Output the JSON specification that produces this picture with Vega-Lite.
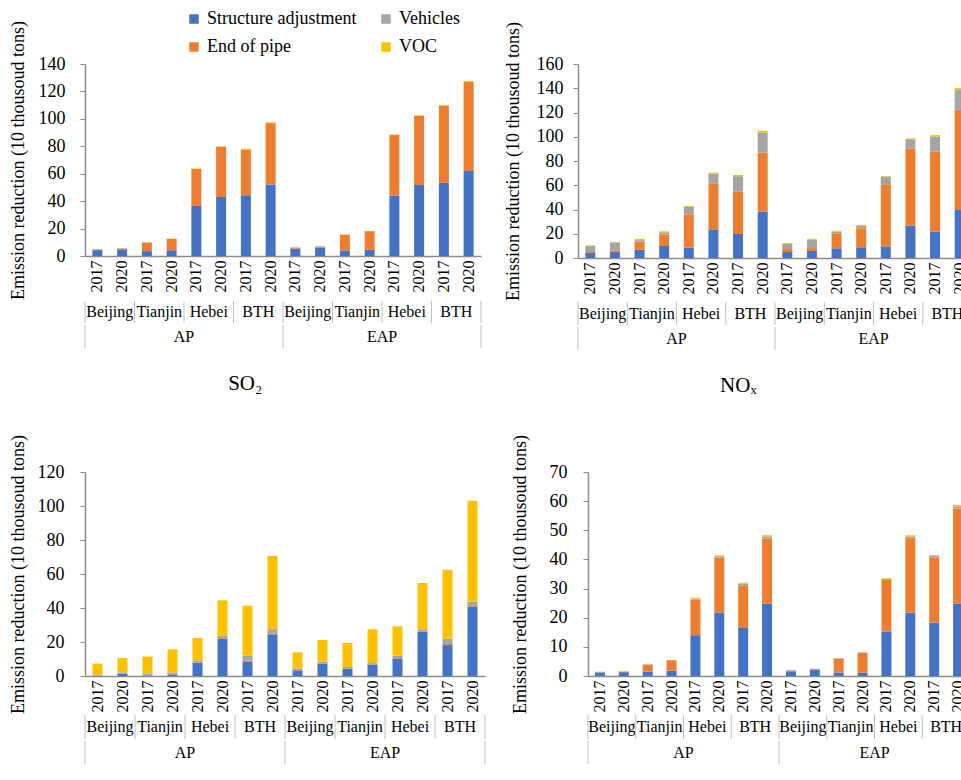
{
  "$schema": "https://vega.github.io/schema/vega-lite/v6.json",
  "padding": {"left": 8, "top": 10, "right": 0, "bottom": 0},
  "config": {
    "font": "Liberation Serif",
    "view": {"stroke": null},
    "axis": {"labelFontSize": 18, "titleFontSize": 18, "titleFontWeight": "normal", "labelColor": "#000000", "titleColor": "#000000", "domainColor": "#8c8c8c", "tickColor": "#8c8c8c", "grid": false, "labelFont": "Liberation Serif", "titleFont": "Liberation Serif"},
    "axisX": {"labelFontSize": 16, "domainWidth": 1.5},
    "axisY": {"domainWidth": 1.5, "tickSize": 5},
    "legend": {"orient": "none", "legendX": 100, "legendY": -54, "columns": 2, "symbolType": "square", "symbolSize": 90, "labelFontSize": 18, "labelFont": "Liberation Serif", "labelColor": "#000000", "columnPadding": 20, "rowPadding": 10, "labelOffset": 4, "symbolStrokeWidth": 0, "symbolOpacity": 1},
    "title": {"font": "Liberation Serif", "fontSize": 21, "fontWeight": "normal", "color": "#000000"},
    "text": {"font": "Liberation Serif", "fontSize": 16, "color": "#000000"}
  },
  "spacing": 38,
  "vconcat": [
    {
      "spacing": 21,
      "hconcat": [
        {
          "spacing": 0,
          "title": {"text": "SO₂", "orient": "bottom", "offset": 24, "anchor": "middle"},
          "vconcat": [
            {
              "width": 396, "height": 192,
              "data": {"values": [
                {"k":"AP|Beijing|2017","m":"Structure adjustment","v":4.3},{"k":"AP|Beijing|2017","m":"End of pipe","v":0.5},{"k":"AP|Beijing|2017","m":"VOC","v":0.1},
                {"k":"AP|Beijing|2020","m":"Structure adjustment","v":4.9},{"k":"AP|Beijing|2020","m":"End of pipe","v":0.6},{"k":"AP|Beijing|2020","m":"VOC","v":0.1},
                {"k":"AP|Tianjin|2017","m":"Structure adjustment","v":3.6},{"k":"AP|Tianjin|2017","m":"End of pipe","v":6.2},{"k":"AP|Tianjin|2017","m":"Vehicles","v":0.1},{"k":"AP|Tianjin|2017","m":"VOC","v":0.1},
                {"k":"AP|Tianjin|2020","m":"Structure adjustment","v":4.2},{"k":"AP|Tianjin|2020","m":"End of pipe","v":8.3},{"k":"AP|Tianjin|2020","m":"VOC","v":0.2},
                {"k":"AP|Hebei|2017","m":"Structure adjustment","v":36.5},{"k":"AP|Hebei|2017","m":"End of pipe","v":27.0},{"k":"AP|Hebei|2017","m":"VOC","v":0.3},
                {"k":"AP|Hebei|2020","m":"Structure adjustment","v":43.0},{"k":"AP|Hebei|2020","m":"End of pipe","v":36.5},{"k":"AP|Hebei|2020","m":"VOC","v":0.4},
                {"k":"AP|BTH|2017","m":"Structure adjustment","v":44.3},{"k":"AP|BTH|2017","m":"End of pipe","v":33.2},{"k":"AP|BTH|2017","m":"VOC","v":0.7},
                {"k":"AP|BTH|2020","m":"Structure adjustment","v":52.1},{"k":"AP|BTH|2020","m":"End of pipe","v":44.8},{"k":"AP|BTH|2020","m":"VOC","v":0.5},
                {"k":"EAP|Beijing|2017","m":"Structure adjustment","v":5.3},{"k":"EAP|Beijing|2017","m":"End of pipe","v":0.8},{"k":"EAP|Beijing|2017","m":"Vehicles","v":0.2},
                {"k":"EAP|Beijing|2020","m":"Structure adjustment","v":6.0},{"k":"EAP|Beijing|2020","m":"End of pipe","v":0.9},{"k":"EAP|Beijing|2020","m":"Vehicles","v":0.2},
                {"k":"EAP|Tianjin|2017","m":"Structure adjustment","v":4.1},{"k":"EAP|Tianjin|2017","m":"End of pipe","v":11.4},{"k":"EAP|Tianjin|2017","m":"VOC","v":0.1},
                {"k":"EAP|Tianjin|2020","m":"Structure adjustment","v":4.5},{"k":"EAP|Tianjin|2020","m":"End of pipe","v":13.6},{"k":"EAP|Tianjin|2020","m":"VOC","v":0.2},
                {"k":"EAP|Hebei|2017","m":"Structure adjustment","v":44.0},{"k":"EAP|Hebei|2017","m":"End of pipe","v":44.2},{"k":"EAP|Hebei|2017","m":"VOC","v":0.4},
                {"k":"EAP|Hebei|2020","m":"Structure adjustment","v":51.8},{"k":"EAP|Hebei|2020","m":"End of pipe","v":50.3},{"k":"EAP|Hebei|2020","m":"VOC","v":0.4},
                {"k":"EAP|BTH|2017","m":"Structure adjustment","v":53.3},{"k":"EAP|BTH|2017","m":"End of pipe","v":56.3},{"k":"EAP|BTH|2017","m":"VOC","v":0.4},
                {"k":"EAP|BTH|2020","m":"Structure adjustment","v":62.0},{"k":"EAP|BTH|2020","m":"End of pipe","v":64.8},{"k":"EAP|BTH|2020","m":"VOC","v":0.7}
              ]},
              "transform": [{"calculate": "datum.m == 'Structure adjustment' ? 0 : (datum.m == 'End of pipe' ? 1 : (datum.m == 'Vehicles' ? 2 : 3))", "as": "o"}],
              "mark": {"type": "bar", "size": 10},
              "encoding": {
                "x": {"field": "k", "type": "nominal", "scale": {"type": "band", "paddingInner": 0, "paddingOuter": 0, "domain": ["AP|Beijing|2017","AP|Beijing|2020","AP|Tianjin|2017","AP|Tianjin|2020","AP|Hebei|2017","AP|Hebei|2020","AP|BTH|2017","AP|BTH|2020","EAP|Beijing|2017","EAP|Beijing|2020","EAP|Tianjin|2017","EAP|Tianjin|2020","EAP|Hebei|2017","EAP|Hebei|2020","EAP|BTH|2017","EAP|BTH|2020"]},
                  "axis": {"title": null, "labelExpr": "substring(datum.value, length(datum.value) - 4)", "labelAngle": -90, "ticks": false, "labelPadding": 4}},
                "y": {"field": "v", "type": "quantitative", "stack": "zero", "scale": {"domain": [0, 140], "nice": false},
                  "axis": {"title": "Emission reduction (10 thousoud tons)", "values": [0, 20, 40, 60, 80, 100, 120, 140], "labelPadding": 15, "titlePadding": 11}},
                "color": {"field": "m", "type": "nominal", "title": null, "scale": {"domain": ["Structure adjustment", "End of pipe", "Vehicles", "VOC"], "range": ["#4472C4", "#ED7D31", "#A5A5A5", "#FFC000"]}},
                "order": {"field": "o", "type": "quantitative"}
              }
            },
            {
              "width": 396, "height": 22,
              "layer": [
                {"data": {"values": [{"k":"AP|Beijing|2017","r":"Beijing"},{"k":"AP|Tianjin|2017","r":"Tianjin"},{"k":"AP|Hebei|2017","r":"Hebei"},{"k":"AP|BTH|2017","r":"BTH"},{"k":"EAP|Beijing|2017","r":"Beijing"},{"k":"EAP|Tianjin|2017","r":"Tianjin"},{"k":"EAP|Hebei|2017","r":"Hebei"},{"k":"EAP|BTH|2017","r":"BTH"}]},
                 "layer": [
                   {"mark": {"type": "text", "baseline": "middle"},
                    "encoding": {"x": {"field": "k", "type": "nominal", "bandPosition": 1, "axis": null, "scale": {"type": "band", "paddingInner": 0, "paddingOuter": 0, "domain": ["AP|Beijing|2017","AP|Beijing|2020","AP|Tianjin|2017","AP|Tianjin|2020","AP|Hebei|2017","AP|Hebei|2020","AP|BTH|2017","AP|BTH|2020","EAP|Beijing|2017","EAP|Beijing|2020","EAP|Tianjin|2017","EAP|Tianjin|2020","EAP|Hebei|2017","EAP|Hebei|2020","EAP|BTH|2017","EAP|BTH|2020"]}}, "text": {"field": "r"}}},
                   {"mark": {"type": "rule", "color": "#c0c0c0"},
                    "encoding": {"x": {"field": "k", "type": "nominal", "bandPosition": 0, "axis": null}}}
                 ]},
                {"data": {"values": [{"k": "EAP|BTH|2020"}]},
                 "mark": {"type": "rule", "color": "#c0c0c0"},
                 "encoding": {"x": {"field": "k", "type": "nominal", "bandPosition": 1, "axis": null}}}
              ]
            },
            {
              "width": 396, "height": 23,
              "layer": [
                {"data": {"values": [{"k":"AP|Tianjin|2020","t":"AP"},{"k":"EAP|Tianjin|2020","t":"EAP"}]},
                 "mark": {"type": "text", "baseline": "middle"},
                 "encoding": {"x": {"field": "k", "type": "nominal", "bandPosition": 1, "axis": null, "scale": {"type": "band", "paddingInner": 0, "paddingOuter": 0, "domain": ["AP|Beijing|2017","AP|Beijing|2020","AP|Tianjin|2017","AP|Tianjin|2020","AP|Hebei|2017","AP|Hebei|2020","AP|BTH|2017","AP|BTH|2020","EAP|Beijing|2017","EAP|Beijing|2020","EAP|Tianjin|2017","EAP|Tianjin|2020","EAP|Hebei|2017","EAP|Hebei|2020","EAP|BTH|2017","EAP|BTH|2020"]}}, "text": {"field": "t"}}},
                {"data": {"values": [{"k":"AP|Beijing|2017"},{"k":"EAP|Beijing|2017"}]},
                 "mark": {"type": "rule", "color": "#c0c0c0"},
                 "encoding": {"x": {"field": "k", "type": "nominal", "bandPosition": 0, "axis": null}}},
                {"data": {"values": [{"k": "EAP|BTH|2020"}]},
                 "mark": {"type": "rule", "color": "#c0c0c0"},
                 "encoding": {"x": {"field": "k", "type": "nominal", "bandPosition": 1, "axis": null}}}
              ]
            }
          ]
        },
        {
          "spacing": 0,
          "title": {"text": "NOₓ", "orient": "bottom", "offset": 24, "anchor": "middle"},
          "vconcat": [
            {
              "width": 394, "height": 194,
              "data": {"values": [
                {"k":"AP|Beijing|2017","m":"Structure adjustment","v":4.6},{"k":"AP|Beijing|2017","m":"End of pipe","v":1.1},{"k":"AP|Beijing|2017","m":"Vehicles","v":4.2},{"k":"AP|Beijing|2017","m":"VOC","v":0.4},
                {"k":"AP|Beijing|2020","m":"Structure adjustment","v":4.9},{"k":"AP|Beijing|2020","m":"End of pipe","v":1.4},{"k":"AP|Beijing|2020","m":"Vehicles","v":6.6},{"k":"AP|Beijing|2020","m":"VOC","v":0.3},
                {"k":"AP|Tianjin|2017","m":"Structure adjustment","v":6.8},{"k":"AP|Tianjin|2017","m":"End of pipe","v":6.8},{"k":"AP|Tianjin|2017","m":"Vehicles","v":1.2},{"k":"AP|Tianjin|2017","m":"VOC","v":1.0},
                {"k":"AP|Tianjin|2020","m":"Structure adjustment","v":9.9},{"k":"AP|Tianjin|2020","m":"End of pipe","v":9.3},{"k":"AP|Tianjin|2020","m":"Vehicles","v":2.0},{"k":"AP|Tianjin|2020","m":"VOC","v":0.8},
                {"k":"AP|Hebei|2017","m":"Structure adjustment","v":8.5},{"k":"AP|Hebei|2017","m":"End of pipe","v":27.5},{"k":"AP|Hebei|2017","m":"Vehicles","v":6.1},{"k":"AP|Hebei|2017","m":"VOC","v":0.8},
                {"k":"AP|Hebei|2020","m":"Structure adjustment","v":23.6},{"k":"AP|Hebei|2020","m":"End of pipe","v":38.0},{"k":"AP|Hebei|2020","m":"Vehicles","v":8.0},{"k":"AP|Hebei|2020","m":"VOC","v":0.8},
                {"k":"AP|BTH|2017","m":"Structure adjustment","v":19.8},{"k":"AP|BTH|2017","m":"End of pipe","v":34.9},{"k":"AP|BTH|2017","m":"Vehicles","v":12.7},{"k":"AP|BTH|2017","m":"VOC","v":1.1},
                {"k":"AP|BTH|2020","m":"Structure adjustment","v":38.2},{"k":"AP|BTH|2020","m":"End of pipe","v":48.7},{"k":"AP|BTH|2020","m":"Vehicles","v":16.7},{"k":"AP|BTH|2020","m":"VOC","v":1.4},
                {"k":"EAP|Beijing|2017","m":"Structure adjustment","v":4.9},{"k":"EAP|Beijing|2017","m":"End of pipe","v":2.5},{"k":"EAP|Beijing|2017","m":"Vehicles","v":4.4},{"k":"EAP|Beijing|2017","m":"VOC","v":0.6},
                {"k":"EAP|Beijing|2020","m":"Structure adjustment","v":5.8},{"k":"EAP|Beijing|2020","m":"End of pipe","v":2.4},{"k":"EAP|Beijing|2020","m":"Vehicles","v":7.2},{"k":"EAP|Beijing|2020","m":"VOC","v":0.5},
                {"k":"EAP|Tianjin|2017","m":"Structure adjustment","v":8.0},{"k":"EAP|Tianjin|2017","m":"End of pipe","v":12.3},{"k":"EAP|Tianjin|2017","m":"Vehicles","v":1.4},{"k":"EAP|Tianjin|2017","m":"VOC","v":0.8},
                {"k":"EAP|Tianjin|2020","m":"Structure adjustment","v":8.8},{"k":"EAP|Tianjin|2020","m":"End of pipe","v":15.7},{"k":"EAP|Tianjin|2020","m":"Vehicles","v":1.9},{"k":"EAP|Tianjin|2020","m":"VOC","v":0.8},
                {"k":"EAP|Hebei|2017","m":"Structure adjustment","v":9.6},{"k":"EAP|Hebei|2017","m":"End of pipe","v":51.2},{"k":"EAP|Hebei|2017","m":"Vehicles","v":6.3},{"k":"EAP|Hebei|2017","m":"VOC","v":0.5},
                {"k":"EAP|Hebei|2020","m":"Structure adjustment","v":26.7},{"k":"EAP|Hebei|2020","m":"End of pipe","v":63.7},{"k":"EAP|Hebei|2020","m":"Vehicles","v":7.5},{"k":"EAP|Hebei|2020","m":"VOC","v":0.8},
                {"k":"EAP|BTH|2017","m":"Structure adjustment","v":21.7},{"k":"EAP|BTH|2017","m":"End of pipe","v":66.0},{"k":"EAP|BTH|2017","m":"Vehicles","v":12.4},{"k":"EAP|BTH|2017","m":"VOC","v":1.3},
                {"k":"EAP|BTH|2020","m":"Structure adjustment","v":40.1},{"k":"EAP|BTH|2020","m":"End of pipe","v":82.2},{"k":"EAP|BTH|2020","m":"Vehicles","v":16.8},{"k":"EAP|BTH|2020","m":"VOC","v":1.1}
              ]},
              "transform": [{"calculate": "datum.m == 'Structure adjustment' ? 0 : (datum.m == 'End of pipe' ? 1 : (datum.m == 'Vehicles' ? 2 : 3))", "as": "o"}],
              "mark": {"type": "bar", "size": 10},
              "encoding": {
                "x": {"field": "k", "type": "nominal", "scale": {"type": "band", "paddingInner": 0, "paddingOuter": 0, "domain": ["AP|Beijing|2017","AP|Beijing|2020","AP|Tianjin|2017","AP|Tianjin|2020","AP|Hebei|2017","AP|Hebei|2020","AP|BTH|2017","AP|BTH|2020","EAP|Beijing|2017","EAP|Beijing|2020","EAP|Tianjin|2017","EAP|Tianjin|2020","EAP|Hebei|2017","EAP|Hebei|2020","EAP|BTH|2017","EAP|BTH|2020"]},
                  "axis": {"title": null, "labelExpr": "substring(datum.value, length(datum.value) - 4)", "labelAngle": -90, "ticks": false, "labelPadding": 4}},
                "y": {"field": "v", "type": "quantitative", "stack": "zero", "scale": {"domain": [0, 160], "nice": false},
                  "axis": {"title": "Emission reduction (10 thousoud tons)", "values": [0, 20, 40, 60, 80, 100, 120, 140, 160], "labelPadding": 10, "titlePadding": 14}},
                "color": {"field": "m", "type": "nominal", "title": null, "scale": {"domain": ["Structure adjustment", "End of pipe", "Vehicles", "VOC"], "range": ["#4472C4", "#ED7D31", "#A5A5A5", "#FFC000"]}},
                "order": {"field": "o", "type": "quantitative"}
              }
            },
            {
              "width": 394, "height": 23,
              "layer": [
                {"data": {"values": [{"k":"AP|Beijing|2017","r":"Beijing"},{"k":"AP|Tianjin|2017","r":"Tianjin"},{"k":"AP|Hebei|2017","r":"Hebei"},{"k":"AP|BTH|2017","r":"BTH"},{"k":"EAP|Beijing|2017","r":"Beijing"},{"k":"EAP|Tianjin|2017","r":"Tianjin"},{"k":"EAP|Hebei|2017","r":"Hebei"},{"k":"EAP|BTH|2017","r":"BTH"}]},
                 "layer": [
                   {"mark": {"type": "text", "baseline": "middle"},
                    "encoding": {"x": {"field": "k", "type": "nominal", "bandPosition": 1, "axis": null, "scale": {"type": "band", "paddingInner": 0, "paddingOuter": 0, "domain": ["AP|Beijing|2017","AP|Beijing|2020","AP|Tianjin|2017","AP|Tianjin|2020","AP|Hebei|2017","AP|Hebei|2020","AP|BTH|2017","AP|BTH|2020","EAP|Beijing|2017","EAP|Beijing|2020","EAP|Tianjin|2017","EAP|Tianjin|2020","EAP|Hebei|2017","EAP|Hebei|2020","EAP|BTH|2017","EAP|BTH|2020"]}}, "text": {"field": "r"}}},
                   {"mark": {"type": "rule", "color": "#c0c0c0"},
                    "encoding": {"x": {"field": "k", "type": "nominal", "bandPosition": 0, "axis": null}}}
                 ]},
                {"data": {"values": [{"k": "EAP|BTH|2020"}]},
                 "mark": {"type": "rule", "color": "#c0c0c0"},
                 "encoding": {"x": {"field": "k", "type": "nominal", "bandPosition": 1, "axis": null}}}
              ]
            },
            {
              "width": 394, "height": 23,
              "layer": [
                {"data": {"values": [{"k":"AP|Tianjin|2020","t":"AP"},{"k":"EAP|Tianjin|2020","t":"EAP"}]},
                 "mark": {"type": "text", "baseline": "middle"},
                 "encoding": {"x": {"field": "k", "type": "nominal", "bandPosition": 1, "axis": null, "scale": {"type": "band", "paddingInner": 0, "paddingOuter": 0, "domain": ["AP|Beijing|2017","AP|Beijing|2020","AP|Tianjin|2017","AP|Tianjin|2020","AP|Hebei|2017","AP|Hebei|2020","AP|BTH|2017","AP|BTH|2020","EAP|Beijing|2017","EAP|Beijing|2020","EAP|Tianjin|2017","EAP|Tianjin|2020","EAP|Hebei|2017","EAP|Hebei|2020","EAP|BTH|2017","EAP|BTH|2020"]}}, "text": {"field": "t"}}},
                {"data": {"values": [{"k":"AP|Beijing|2017"},{"k":"EAP|Beijing|2017"}]},
                 "mark": {"type": "rule", "color": "#c0c0c0"},
                 "encoding": {"x": {"field": "k", "type": "nominal", "bandPosition": 0, "axis": null}}},
                {"data": {"values": [{"k": "EAP|BTH|2020"}]},
                 "mark": {"type": "rule", "color": "#c0c0c0"},
                 "encoding": {"x": {"field": "k", "type": "nominal", "bandPosition": 1, "axis": null}}}
              ]
            }
          ]
        }
      ]
    },
    {
      "spacing": 24,
      "hconcat": [
        {
          "spacing": 0,
          "title": {"text": "VOCₛ", "orient": "bottom", "offset": 26, "anchor": "middle"},
          "vconcat": [
            {
              "width": 400, "height": 204,
              "data": {"values": [
                {"k":"AP|Beijing|2017","m":"Structure adjustment","v":0.2},{"k":"AP|Beijing|2017","m":"Vehicles","v":0.5},{"k":"AP|Beijing|2017","m":"VOC","v":6.6},
                {"k":"AP|Beijing|2020","m":"Structure adjustment","v":1.3},{"k":"AP|Beijing|2020","m":"End of pipe","v":0.1},{"k":"AP|Beijing|2020","m":"Vehicles","v":0.8},{"k":"AP|Beijing|2020","m":"VOC","v":8.4},
                {"k":"AP|Tianjin|2017","m":"Structure adjustment","v":0.3},{"k":"AP|Tianjin|2017","m":"Vehicles","v":1.2},{"k":"AP|Tianjin|2017","m":"VOC","v":9.9},
                {"k":"AP|Tianjin|2020","m":"Structure adjustment","v":0.9},{"k":"AP|Tianjin|2020","m":"End of pipe","v":0.1},{"k":"AP|Tianjin|2020","m":"Vehicles","v":1.0},{"k":"AP|Tianjin|2020","m":"VOC","v":13.7},
                {"k":"AP|Hebei|2017","m":"Structure adjustment","v":7.8},{"k":"AP|Hebei|2017","m":"End of pipe","v":0.3},{"k":"AP|Hebei|2017","m":"Vehicles","v":1.1},{"k":"AP|Hebei|2017","m":"VOC","v":13.2},
                {"k":"AP|Hebei|2020","m":"Structure adjustment","v":21.9},{"k":"AP|Hebei|2020","m":"End of pipe","v":0.4},{"k":"AP|Hebei|2020","m":"Vehicles","v":1.2},{"k":"AP|Hebei|2020","m":"VOC","v":21.0},
                {"k":"AP|BTH|2017","m":"Structure adjustment","v":8.6},{"k":"AP|BTH|2017","m":"End of pipe","v":0.4},{"k":"AP|BTH|2017","m":"Vehicles","v":3.0},{"k":"AP|BTH|2017","m":"VOC","v":29.4},
                {"k":"AP|BTH|2020","m":"Structure adjustment","v":24.5},{"k":"AP|BTH|2020","m":"End of pipe","v":0.6},{"k":"AP|BTH|2020","m":"Vehicles","v":2.5},{"k":"AP|BTH|2020","m":"VOC","v":43.0},
                {"k":"EAP|Beijing|2017","m":"Structure adjustment","v":3.3},{"k":"EAP|Beijing|2017","m":"End of pipe","v":0.2},{"k":"EAP|Beijing|2017","m":"Vehicles","v":1.0},{"k":"EAP|Beijing|2017","m":"VOC","v":9.4},
                {"k":"EAP|Beijing|2020","m":"Structure adjustment","v":7.3},{"k":"EAP|Beijing|2020","m":"End of pipe","v":0.2},{"k":"EAP|Beijing|2020","m":"Vehicles","v":0.9},{"k":"EAP|Beijing|2020","m":"VOC","v":12.8},
                {"k":"EAP|Tianjin|2017","m":"Structure adjustment","v":4.3},{"k":"EAP|Tianjin|2017","m":"End of pipe","v":0.2},{"k":"EAP|Tianjin|2017","m":"Vehicles","v":0.8},{"k":"EAP|Tianjin|2017","m":"VOC","v":14.1},
                {"k":"EAP|Tianjin|2020","m":"Structure adjustment","v":6.7},{"k":"EAP|Tianjin|2020","m":"End of pipe","v":0.2},{"k":"EAP|Tianjin|2020","m":"Vehicles","v":0.7},{"k":"EAP|Tianjin|2020","m":"VOC","v":19.9},
                {"k":"EAP|Hebei|2017","m":"Structure adjustment","v":10.2},{"k":"EAP|Hebei|2017","m":"End of pipe","v":0.4},{"k":"EAP|Hebei|2017","m":"Vehicles","v":1.4},{"k":"EAP|Hebei|2017","m":"VOC","v":17.2},
                {"k":"EAP|Hebei|2020","m":"Structure adjustment","v":26.1},{"k":"EAP|Hebei|2020","m":"End of pipe","v":0.3},{"k":"EAP|Hebei|2020","m":"Vehicles","v":1.1},{"k":"EAP|Hebei|2020","m":"VOC","v":27.2},
                {"k":"EAP|BTH|2017","m":"Structure adjustment","v":18.2},{"k":"EAP|BTH|2017","m":"End of pipe","v":0.6},{"k":"EAP|BTH|2017","m":"Vehicles","v":3.2},{"k":"EAP|BTH|2017","m":"VOC","v":40.5},
                {"k":"EAP|BTH|2020","m":"Structure adjustment","v":40.8},{"k":"EAP|BTH|2020","m":"End of pipe","v":0.4},{"k":"EAP|BTH|2020","m":"Vehicles","v":2.5},{"k":"EAP|BTH|2020","m":"VOC","v":59.4}
              ]},
              "transform": [{"calculate": "datum.m == 'Structure adjustment' ? 0 : (datum.m == 'End of pipe' ? 1 : (datum.m == 'Vehicles' ? 2 : 3))", "as": "o"}],
              "mark": {"type": "bar", "size": 10},
              "encoding": {
                "x": {"field": "k", "type": "nominal", "scale": {"type": "band", "paddingInner": 0, "paddingOuter": 0, "domain": ["AP|Beijing|2017","AP|Beijing|2020","AP|Tianjin|2017","AP|Tianjin|2020","AP|Hebei|2017","AP|Hebei|2020","AP|BTH|2017","AP|BTH|2020","EAP|Beijing|2017","EAP|Beijing|2020","EAP|Tianjin|2017","EAP|Tianjin|2020","EAP|Hebei|2017","EAP|Hebei|2020","EAP|BTH|2017","EAP|BTH|2020"]},
                  "axis": {"title": null, "labelExpr": "substring(datum.value, length(datum.value) - 4)", "labelAngle": -90, "ticks": false, "labelPadding": 4}},
                "y": {"field": "v", "type": "quantitative", "stack": "zero", "scale": {"domain": [0, 120], "nice": false},
                  "axis": {"title": "Emission reduction (10 thousoud tons)", "values": [0, 20, 40, 60, 80, 100, 120], "labelPadding": 16, "titlePadding": 10}},
                "color": {"field": "m", "type": "nominal", "title": null, "scale": {"domain": ["Structure adjustment", "End of pipe", "Vehicles", "VOC"], "range": ["#4472C4", "#ED7D31", "#A5A5A5", "#FFC000"]}},
                "order": {"field": "o", "type": "quantitative"}
              }
            },
            {
              "width": 400, "height": 24,
              "layer": [
                {"data": {"values": [{"k":"AP|Beijing|2017","r":"Beijing"},{"k":"AP|Tianjin|2017","r":"Tianjin"},{"k":"AP|Hebei|2017","r":"Hebei"},{"k":"AP|BTH|2017","r":"BTH"},{"k":"EAP|Beijing|2017","r":"Beijing"},{"k":"EAP|Tianjin|2017","r":"Tianjin"},{"k":"EAP|Hebei|2017","r":"Hebei"},{"k":"EAP|BTH|2017","r":"BTH"}]},
                 "layer": [
                   {"mark": {"type": "text", "baseline": "middle"},
                    "encoding": {"x": {"field": "k", "type": "nominal", "bandPosition": 1, "axis": null, "scale": {"type": "band", "paddingInner": 0, "paddingOuter": 0, "domain": ["AP|Beijing|2017","AP|Beijing|2020","AP|Tianjin|2017","AP|Tianjin|2020","AP|Hebei|2017","AP|Hebei|2020","AP|BTH|2017","AP|BTH|2020","EAP|Beijing|2017","EAP|Beijing|2020","EAP|Tianjin|2017","EAP|Tianjin|2020","EAP|Hebei|2017","EAP|Hebei|2020","EAP|BTH|2017","EAP|BTH|2020"]}}, "text": {"field": "r"}}},
                   {"mark": {"type": "rule", "color": "#c0c0c0"},
                    "encoding": {"x": {"field": "k", "type": "nominal", "bandPosition": 0, "axis": null}}}
                 ]},
                {"data": {"values": [{"k": "EAP|BTH|2020"}]},
                 "mark": {"type": "rule", "color": "#c0c0c0"},
                 "encoding": {"x": {"field": "k", "type": "nominal", "bandPosition": 1, "axis": null}}}
              ]
            },
            {
              "width": 400, "height": 23,
              "layer": [
                {"data": {"values": [{"k":"AP|Tianjin|2020","t":"AP"},{"k":"EAP|Tianjin|2020","t":"EAP"}]},
                 "mark": {"type": "text", "baseline": "middle"},
                 "encoding": {"x": {"field": "k", "type": "nominal", "bandPosition": 1, "axis": null, "scale": {"type": "band", "paddingInner": 0, "paddingOuter": 0, "domain": ["AP|Beijing|2017","AP|Beijing|2020","AP|Tianjin|2017","AP|Tianjin|2020","AP|Hebei|2017","AP|Hebei|2020","AP|BTH|2017","AP|BTH|2020","EAP|Beijing|2017","EAP|Beijing|2020","EAP|Tianjin|2017","EAP|Tianjin|2020","EAP|Hebei|2017","EAP|Hebei|2020","EAP|BTH|2017","EAP|BTH|2020"]}}, "text": {"field": "t"}}},
                {"data": {"values": [{"k":"AP|Beijing|2017"},{"k":"EAP|Beijing|2017"}]},
                 "mark": {"type": "rule", "color": "#c0c0c0"},
                 "encoding": {"x": {"field": "k", "type": "nominal", "bandPosition": 0, "axis": null}}},
                {"data": {"values": [{"k": "EAP|BTH|2020"}]},
                 "mark": {"type": "rule", "color": "#c0c0c0"},
                 "encoding": {"x": {"field": "k", "type": "nominal", "bandPosition": 1, "axis": null}}}
              ]
            }
          ]
        },
        {
          "spacing": 0,
          "title": {"text": "PM₂.₅", "orient": "bottom", "offset": 26, "anchor": "middle"},
          "vconcat": [
            {
              "width": 382, "height": 204,
              "data": {"values": [
                {"k":"AP|Beijing|2017","m":"Structure adjustment","v":1.2},{"k":"AP|Beijing|2017","m":"End of pipe","v":0.1},{"k":"AP|Beijing|2017","m":"Vehicles","v":0.1},{"k":"AP|Beijing|2017","m":"VOC","v":0.1},
                {"k":"AP|Beijing|2020","m":"Structure adjustment","v":1.3},{"k":"AP|Beijing|2020","m":"End of pipe","v":0.1},{"k":"AP|Beijing|2020","m":"Vehicles","v":0.2},{"k":"AP|Beijing|2020","m":"VOC","v":0.1},
                {"k":"AP|Tianjin|2017","m":"Structure adjustment","v":1.5},{"k":"AP|Tianjin|2017","m":"End of pipe","v":2.4},{"k":"AP|Tianjin|2017","m":"Vehicles","v":0.1},
                {"k":"AP|Tianjin|2020","m":"Structure adjustment","v":1.8},{"k":"AP|Tianjin|2020","m":"End of pipe","v":3.6},{"k":"AP|Tianjin|2020","m":"Vehicles","v":0.1},
                {"k":"AP|Hebei|2017","m":"Structure adjustment","v":14.0},{"k":"AP|Hebei|2017","m":"End of pipe","v":12.2},{"k":"AP|Hebei|2017","m":"Vehicles","v":0.4},{"k":"AP|Hebei|2017","m":"VOC","v":0.3},
                {"k":"AP|Hebei|2020","m":"Structure adjustment","v":21.7},{"k":"AP|Hebei|2020","m":"End of pipe","v":18.9},{"k":"AP|Hebei|2020","m":"Vehicles","v":0.5},{"k":"AP|Hebei|2020","m":"VOC","v":0.3},
                {"k":"AP|BTH|2017","m":"Structure adjustment","v":16.5},{"k":"AP|BTH|2017","m":"End of pipe","v":14.6},{"k":"AP|BTH|2017","m":"Vehicles","v":0.6},{"k":"AP|BTH|2017","m":"VOC","v":0.3},
                {"k":"AP|BTH|2020","m":"Structure adjustment","v":24.8},{"k":"AP|BTH|2020","m":"End of pipe","v":22.3},{"k":"AP|BTH|2020","m":"Vehicles","v":0.8},{"k":"AP|BTH|2020","m":"VOC","v":0.4},
                {"k":"EAP|Beijing|2017","m":"Structure adjustment","v":1.6},{"k":"EAP|Beijing|2017","m":"End of pipe","v":0.2},{"k":"EAP|Beijing|2017","m":"Vehicles","v":0.2},{"k":"EAP|Beijing|2017","m":"VOC","v":0.1},
                {"k":"EAP|Beijing|2020","m":"Structure adjustment","v":2.2},{"k":"EAP|Beijing|2020","m":"End of pipe","v":0.1},{"k":"EAP|Beijing|2020","m":"Vehicles","v":0.2},
                {"k":"EAP|Tianjin|2017","m":"Structure adjustment","v":1.2},{"k":"EAP|Tianjin|2017","m":"End of pipe","v":4.8},{"k":"EAP|Tianjin|2017","m":"Vehicles","v":0.1},
                {"k":"EAP|Tianjin|2020","m":"Structure adjustment","v":1.1},{"k":"EAP|Tianjin|2020","m":"End of pipe","v":6.9},{"k":"EAP|Tianjin|2020","m":"Vehicles","v":0.1},
                {"k":"EAP|Hebei|2017","m":"Structure adjustment","v":15.3},{"k":"EAP|Hebei|2017","m":"End of pipe","v":17.7},{"k":"EAP|Hebei|2017","m":"Vehicles","v":0.4},{"k":"EAP|Hebei|2017","m":"VOC","v":0.2},
                {"k":"EAP|Hebei|2020","m":"Structure adjustment","v":21.7},{"k":"EAP|Hebei|2020","m":"End of pipe","v":25.6},{"k":"EAP|Hebei|2020","m":"Vehicles","v":0.6},{"k":"EAP|Hebei|2020","m":"VOC","v":0.4},
                {"k":"EAP|BTH|2017","m":"Structure adjustment","v":18.3},{"k":"EAP|BTH|2017","m":"End of pipe","v":22.3},{"k":"EAP|BTH|2017","m":"Vehicles","v":0.6},{"k":"EAP|BTH|2017","m":"VOC","v":0.3},
                {"k":"EAP|BTH|2020","m":"Structure adjustment","v":24.8},{"k":"EAP|BTH|2020","m":"End of pipe","v":32.7},{"k":"EAP|BTH|2020","m":"Vehicles","v":0.7},{"k":"EAP|BTH|2020","m":"VOC","v":0.5}
              ]},
              "transform": [{"calculate": "datum.m == 'Structure adjustment' ? 0 : (datum.m == 'End of pipe' ? 1 : (datum.m == 'Vehicles' ? 2 : 3))", "as": "o"}],
              "mark": {"type": "bar", "size": 10},
              "encoding": {
                "x": {"field": "k", "type": "nominal", "scale": {"type": "band", "paddingInner": 0, "paddingOuter": 0, "domain": ["AP|Beijing|2017","AP|Beijing|2020","AP|Tianjin|2017","AP|Tianjin|2020","AP|Hebei|2017","AP|Hebei|2020","AP|BTH|2017","AP|BTH|2020","EAP|Beijing|2017","EAP|Beijing|2020","EAP|Tianjin|2017","EAP|Tianjin|2020","EAP|Hebei|2017","EAP|Hebei|2020","EAP|BTH|2017","EAP|BTH|2020"]},
                  "axis": {"title": null, "labelExpr": "substring(datum.value, length(datum.value) - 4)", "labelAngle": -90, "ticks": false, "labelPadding": 4}},
                "y": {"field": "v", "type": "quantitative", "stack": "zero", "scale": {"domain": [0, 70], "nice": false},
                  "axis": {"title": "Emission reduction (10 thousoud tons)", "values": [0, 10, 20, 30, 40, 50, 60, 70], "labelPadding": 16, "titlePadding": 20}},
                "color": {"field": "m", "type": "nominal", "title": null, "scale": {"domain": ["Structure adjustment", "End of pipe", "Vehicles", "VOC"], "range": ["#4472C4", "#ED7D31", "#A5A5A5", "#FFC000"]}},
                "order": {"field": "o", "type": "quantitative"}
              }
            },
            {
              "width": 382, "height": 24,
              "layer": [
                {"data": {"values": [{"k":"AP|Beijing|2017","r":"Beijing"},{"k":"AP|Tianjin|2017","r":"Tianjin"},{"k":"AP|Hebei|2017","r":"Hebei"},{"k":"AP|BTH|2017","r":"BTH"},{"k":"EAP|Beijing|2017","r":"Beijing"},{"k":"EAP|Tianjin|2017","r":"Tianjin"},{"k":"EAP|Hebei|2017","r":"Hebei"},{"k":"EAP|BTH|2017","r":"BTH"}]},
                 "layer": [
                   {"mark": {"type": "text", "baseline": "middle"},
                    "encoding": {"x": {"field": "k", "type": "nominal", "bandPosition": 1, "axis": null, "scale": {"type": "band", "paddingInner": 0, "paddingOuter": 0, "domain": ["AP|Beijing|2017","AP|Beijing|2020","AP|Tianjin|2017","AP|Tianjin|2020","AP|Hebei|2017","AP|Hebei|2020","AP|BTH|2017","AP|BTH|2020","EAP|Beijing|2017","EAP|Beijing|2020","EAP|Tianjin|2017","EAP|Tianjin|2020","EAP|Hebei|2017","EAP|Hebei|2020","EAP|BTH|2017","EAP|BTH|2020"]}}, "text": {"field": "r"}}},
                   {"mark": {"type": "rule", "color": "#c0c0c0"},
                    "encoding": {"x": {"field": "k", "type": "nominal", "bandPosition": 0, "axis": null}}}
                 ]},
                {"data": {"values": [{"k": "EAP|BTH|2020"}]},
                 "mark": {"type": "rule", "color": "#c0c0c0"},
                 "encoding": {"x": {"field": "k", "type": "nominal", "bandPosition": 1, "axis": null}}}
              ]
            },
            {
              "width": 382, "height": 23,
              "layer": [
                {"data": {"values": [{"k":"AP|Tianjin|2020","t":"AP"},{"k":"EAP|Tianjin|2020","t":"EAP"}]},
                 "mark": {"type": "text", "baseline": "middle"},
                 "encoding": {"x": {"field": "k", "type": "nominal", "bandPosition": 1, "axis": null, "scale": {"type": "band", "paddingInner": 0, "paddingOuter": 0, "domain": ["AP|Beijing|2017","AP|Beijing|2020","AP|Tianjin|2017","AP|Tianjin|2020","AP|Hebei|2017","AP|Hebei|2020","AP|BTH|2017","AP|BTH|2020","EAP|Beijing|2017","EAP|Beijing|2020","EAP|Tianjin|2017","EAP|Tianjin|2020","EAP|Hebei|2017","EAP|Hebei|2020","EAP|BTH|2017","EAP|BTH|2020"]}}, "text": {"field": "t"}}},
                {"data": {"values": [{"k":"AP|Beijing|2017"},{"k":"EAP|Beijing|2017"}]},
                 "mark": {"type": "rule", "color": "#c0c0c0"},
                 "encoding": {"x": {"field": "k", "type": "nominal", "bandPosition": 0, "axis": null}}},
                {"data": {"values": [{"k": "EAP|BTH|2020"}]},
                 "mark": {"type": "rule", "color": "#c0c0c0"},
                 "encoding": {"x": {"field": "k", "type": "nominal", "bandPosition": 1, "axis": null}}}
              ]
            }
          ]
        }
      ]
    }
  ]
}
